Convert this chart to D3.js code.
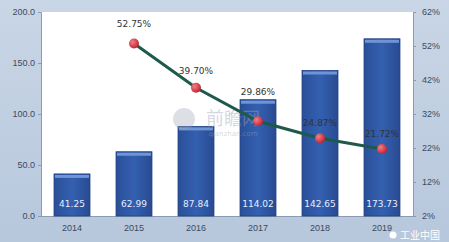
<!DOCTYPE html>
<html>
<head>
<meta charset="utf-8">
<script src="https://cdn.jsdelivr.net/npm/d3@7"></script>
<style>
  body { margin: 0; background: #bfcde0; }
  svg { display: block; font-family: "DejaVu Sans", sans-serif; }
</style>
</head>
<body>
<svg id="chart" width="449" height="242"></svg>
<script>
const years = ["2014", "2015", "2016", "2017", "2018", "2019"];
const sales = [41.25, 62.99, 87.84, 114.02, 142.65, 173.73];
// growth rate, first year has none
const growthYears = ["2015", "2016", "2017", "2018", "2019"];
const growth = [52.75, 39.70, 29.86, 24.87, 21.72];
const leftTicks = [0, 50, 100, 150, 200];
const rightTicks = [2, 12, 22, 32, 42, 52, 62];

const svg = d3.select("#chart");
const margin = { top: 12, right: 36, bottom: 26, left: 41 };
const W = 449, H = 242;
const innerW = W - margin.left - margin.right;
const innerH = H - margin.top - margin.bottom;

// background
const defs = svg.append("defs");
const bg = defs.append("linearGradient")
    .attr("id", "bg").attr("x1", 0).attr("y1", 0).attr("x2", 0).attr("y2", 1);
bg.append("stop").attr("offset", 0).attr("stop-color", "#c9d6e6");
bg.append("stop").attr("offset", 1).attr("stop-color", "#b7c7dc");
svg.append("rect").attr("width", W).attr("height", H).attr("fill", "url(#bg)");

const barGrad = defs.append("linearGradient")
    .attr("id", "bar").attr("x1", 0).attr("y1", 0).attr("x2", 1).attr("y2", 0);
barGrad.append("stop").attr("offset", 0).attr("stop-color", "#2a4f98");
barGrad.append("stop").attr("offset", 0.5).attr("stop-color", "#3460b0");
barGrad.append("stop").attr("offset", 1).attr("stop-color", "#284b92");

const g = svg.append("g").attr("transform", `translate(${margin.left},${margin.top})`);

g.append("rect").attr("width", innerW).attr("height", innerH).attr("fill", "#ffffff");

const x = d3.scaleBand().domain(years).range([0, innerW]).paddingInner(0.42).paddingOuter(0.21);
const y = d3.scaleLinear().domain([0, 200]).range([innerH, 0]);
const y2 = d3.scaleLinear().domain([2, 62]).range([innerH, 0]);

// axes
const axL = g.append("g").call(d3.axisLeft(y).tickValues(leftTicks).tickFormat(d3.format(".1f")).tickSize(3));
const axR = g.append("g").attr("transform", `translate(${innerW},0)`)
    .call(d3.axisRight(y2).tickValues(rightTicks).tickFormat(d => d + "%").tickSize(3));
const axB = g.append("g").attr("transform", `translate(0,${innerH})`)
    .call(d3.axisBottom(x).tickSize(0));
[axL, axR, axB].forEach(a => {
  a.selectAll("path, line").attr("stroke", "#8a9bb4");
  a.selectAll("text").attr("fill", "#3a4a63").attr("font-size", 9);
});
axL.selectAll("text").attr("x", -6);
axR.selectAll("text").attr("x", 9);
axB.selectAll("text").attr("dy", "1.35em");

// bars
const bars = g.selectAll(".bar").data(sales).join("g").attr("class", "bar");
bars.append("rect")
    .attr("x", (d, i) => x(years[i]))
    .attr("y", d => y(d))
    .attr("width", x.bandwidth())
    .attr("height", d => innerH - y(d))
    .attr("fill", "url(#bar)")
    .attr("stroke", "#1f3f80").attr("stroke-width", 0.8);
bars.append("rect")
    .attr("x", (d, i) => x(years[i]) + 1)
    .attr("y", d => y(d) + 1)
    .attr("width", x.bandwidth() - 2)
    .attr("height", 3)
    .attr("fill", "#6f95d6");
bars.append("text")
    .attr("x", (d, i) => x(years[i]) + x.bandwidth() / 2)
    .attr("y", innerH - 9)
    .attr("text-anchor", "middle")
    .attr("fill", "#e6eeff")
    .attr("font-size", 9)
    .text(d => d.toFixed(2));

// watermark
g.append("circle").attr("cx", 143).attr("cy", 107).attr("r", 11)
    .attr("fill", "#9aa6b8").attr("fill-opacity", 0.35);
g.append("text").attr("x", 192).attr("y", 113).attr("text-anchor", "middle")
    .attr("fill", "#9aa6b8").attr("fill-opacity", 0.45).attr("font-size", 18)
    .attr("font-family", "Noto Sans CJK SC").text("前瞻网");
g.append("text").attr("x", 192).attr("y", 124).attr("text-anchor", "middle")
    .attr("fill", "#9aa6b8").attr("fill-opacity", 0.45).attr("font-size", 7)
    .text("qianzhan.com");

// growth line
const cx = d => x(d) + x.bandwidth() / 2;
const line = d3.line().x((d, i) => cx(growthYears[i])).y(d => y2(d));
g.append("path").datum(growth).attr("d", line)
    .attr("fill", "none").attr("stroke", "#1d5a4c").attr("stroke-width", 3);

const rg = defs.append("radialGradient").attr("id", "dot")
    .attr("cx", 0.35).attr("cy", 0.35).attr("r", 0.7);
rg.append("stop").attr("offset", 0).attr("stop-color", "#f08088");
rg.append("stop").attr("offset", 1).attr("stop-color", "#c0202e");
g.selectAll(".dot").data(growth).join("circle").attr("class", "dot")
    .attr("cx", (d, i) => cx(growthYears[i]))
    .attr("cy", d => y2(d))
    .attr("r", 5)
    .attr("fill", "url(#dot)");

const labelOffset = [16, 13.5, 26.5, 12.5, 11.5];
g.selectAll(".plabel").data(growth).join("text").attr("class", "plabel")
    .attr("x", (d, i) => cx(growthYears[i]))
    .attr("y", (d, i) => y2(d) - labelOffset[i])
    .attr("text-anchor", "middle")
    .attr("fill", "#333333")
    .attr("font-size", 9)
    .text(d => d.toFixed(2) + "%");

// corner mark
svg.append("text").attr("x", 400).attr("y", 239).attr("fill", "#ffffff")
    .attr("font-size", 10).attr("font-family", "Noto Sans CJK SC").text("工业中国");
svg.append("circle").attr("cx", 393).attr("cy", 235).attr("r", 3.5).attr("fill", "#ffffff");
</script>
</body>
</html>
